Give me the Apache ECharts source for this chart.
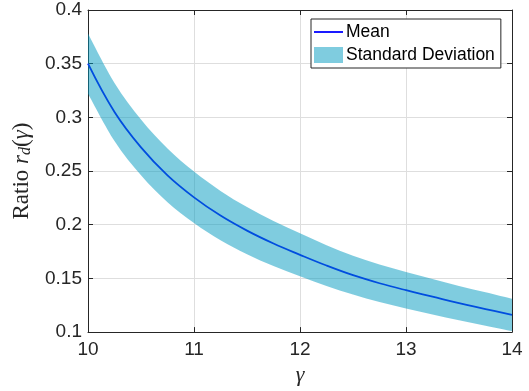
<!DOCTYPE html>
<html>
<head>
<meta charset="utf-8">
<script src="https://cdn.jsdelivr.net/npm/echarts@6/dist/echarts.min.js"></script>
<style>html,body{margin:0;padding:0;background:#fff;}#c{width:529px;height:391px;}</style>
</head>
<body>
<div id="c"></div>
<script>
const gamma = [10, 10.25, 10.5, 10.75, 11, 11.25, 11.5, 11.75, 12, 12.25, 12.5, 12.75, 13, 13.25, 13.5, 13.75, 14];
const meanVals = [0.350, 0.305, 0.272, 0.246, 0.2255, 0.2085, 0.1945, 0.1825, 0.172, 0.162, 0.153, 0.1455, 0.139, 0.133, 0.127, 0.1215, 0.116];
const upperVals = [0.378, 0.332, 0.298, 0.271, 0.2495, 0.2315, 0.2165, 0.2035, 0.192, 0.181, 0.171, 0.163, 0.156, 0.1495, 0.143, 0.137, 0.131];
const lowerVals = [0.322, 0.278, 0.246, 0.221, 0.2015, 0.1855, 0.1725, 0.1615, 0.152, 0.143, 0.135, 0.128, 0.122, 0.1165, 0.111, 0.106, 0.101];
const xTicks = [10, 11, 12, 13, 14];
const yTicks = [0.1, 0.15, 0.2, 0.25, 0.3, 0.35, 0.4];

const chart = echarts.init(document.getElementById('c'), null, {renderer: 'canvas'});
const axisCol = '#262626';
const tickFont = {fontFamily: 'Liberation Sans', fontSize: 19, color: axisCol};
const bandColor = 'rgba(0,153,191,0.5)';

// Catmull-Rom -> cubic bezier path segments through pixel points
function splineSegs(p) {
  let d = '';
  for (let i = 0; i < p.length - 1; i++) {
    const p0 = p[Math.max(i - 1, 0)], p1 = p[i], p2 = p[i + 1], p3 = p[Math.min(i + 2, p.length - 1)];
    const c1 = [p1[0] + (p2[0] - p0[0]) / 6, p1[1] + (p2[1] - p0[1]) / 6];
    const c2 = [p2[0] - (p3[0] - p1[0]) / 6, p2[1] - (p3[1] - p1[1]) / 6];
    d += ' C' + c1[0] + ',' + c1[1] + ' ' + c2[0] + ',' + c2[1] + ' ' + p2[0] + ',' + p2[1];
  }
  return d;
}

const option = {
  animation: false,
  grid: {left: 88, right: 17, top: 10, bottom: 56, containLabel: false},
  legend: {
    orient: 'vertical',
    left: 311, top: 19,
    itemWidth: 29, itemHeight: 16, itemGap: 5,
    padding: [4, 6, 4, 3],
    borderColor: axisCol, borderWidth: 1, backgroundColor: '#fff',
    textStyle: {fontFamily: 'Liberation Sans', fontSize: 17.5, color: '#000', padding: [0, 0, 0, -2]},
    data: [
      {name: 'Mean', icon: 'path://M0,0 L29,0 L29,1.8 L0,1.8 Z', itemStyle: {color: '#0000ff'}},
      {name: 'Standard Deviation', icon: 'rect'}
    ]
  },
  xAxis: [{
    type: 'value', min: 10, max: 14, interval: 1,
    axisLine: {show: true, lineStyle: {color: axisCol, width: 1}},
    axisTick: {show: true, inside: true, length: 5, lineStyle: {color: axisCol}},
    axisLabel: Object.assign({margin: 8}, tickFont),
    splitLine: {show: true, lineStyle: {color: '#dedede', width: 1}},
    name: 'γ', nameLocation: 'middle', nameGap: 28,
    nameTextStyle: {fontFamily: 'Liberation Serif', fontStyle: 'italic', fontSize: 22, color: axisCol}
  }, {
    type: 'value', min: 10, max: 14, interval: 1, position: 'top',
    axisLine: {show: true, lineStyle: {color: axisCol, width: 1}},
    axisTick: {show: true, inside: true, length: 5, lineStyle: {color: axisCol}},
    axisLabel: {show: false}, splitLine: {show: false}
  }],
  yAxis: [{
    type: 'value', min: 0.1, max: 0.4, interval: 0.05,
    axisLine: {show: true, lineStyle: {color: axisCol, width: 1}},
    axisTick: {show: true, inside: true, length: 5, lineStyle: {color: axisCol}},
    axisLabel: Object.assign({margin: 6, formatter: v => String(+v.toFixed(2))}, tickFont),
    splitLine: {show: true, lineStyle: {color: '#dedede', width: 1}},
    name: '{a|Ratio }{b|r}{c|d}{a|(}{b|γ}{a|)}',
    nameLocation: 'middle', nameGap: 48, nameRotate: 90,
    nameTextStyle: {
      rich: {
        a: {fontFamily: 'Liberation Serif', fontSize: 23, color: axisCol},
        b: {fontFamily: 'Liberation Serif', fontStyle: 'italic', fontSize: 23, color: axisCol},
        c: {fontFamily: 'Liberation Serif', fontStyle: 'italic', fontSize: 16, color: axisCol, verticalAlign: 'bottom', padding: [9, 0, 0, 0]}
      }
    }
  }, {
    type: 'value', min: 0.1, max: 0.4, interval: 0.05, position: 'right',
    axisLine: {show: true, lineStyle: {color: axisCol, width: 1}},
    axisTick: {show: true, inside: true, length: 5, lineStyle: {color: axisCol}},
    axisLabel: {show: false}, splitLine: {show: false}
  }],
  series: [{
    name: 'Mean',
    type: 'line',
    showSymbol: false, symbol: 'none',
    smooth: 0.4,
    lineStyle: {color: '#0000ff', width: 1.8},
    itemStyle: {color: '#0000ff'},
    data: gamma.map((g, i) => [g, meanVals[i]]),
    z: 2
  }, {
    name: 'Standard Deviation',
    type: 'custom',
    clip: true,
    itemStyle: {color: bandColor},
    data: gamma.map((g, i) => [g, meanVals[i]]),
    renderItem: function (params, api) {
      if (params.dataIndex !== 0) return null;
      const up = gamma.map((g, i) => api.coord([g, upperVals[i]]));
      const lo = gamma.map((g, i) => api.coord([g, lowerVals[i]])).reverse();
      const d = 'M' + up[0][0] + ',' + up[0][1] + splineSegs(up) +
        ' L' + lo[0][0] + ',' + lo[0][1] + splineSegs(lo) + ' Z';
      return {type: 'path', shape: {pathData: d}, style: {fill: bandColor}};
    },
    z: 3
  }]
};
chart.setOption(option);
</script>
</body>
</html>
